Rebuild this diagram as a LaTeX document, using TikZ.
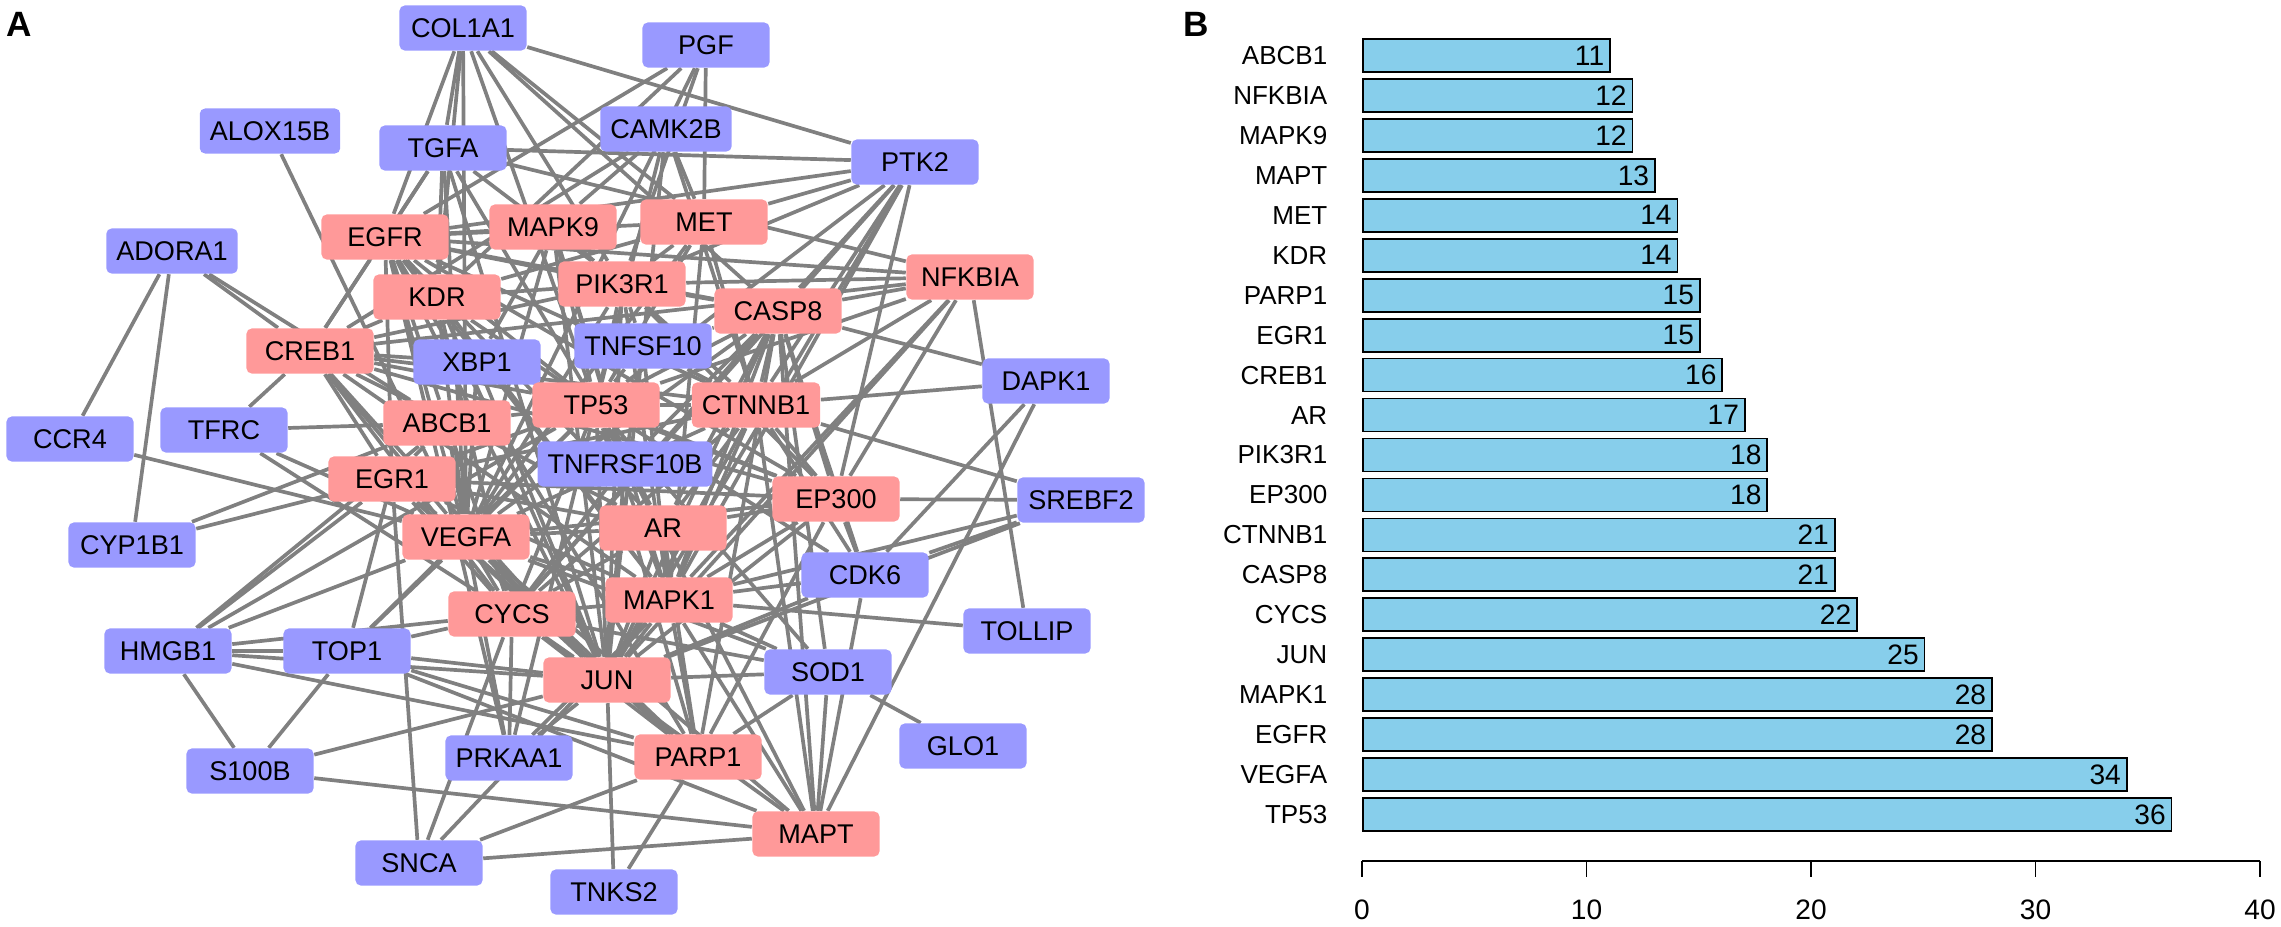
\documentclass[tikz,border=0pt]{standalone}
\usepackage{fontspec}
\setmainfont{Liberation Sans}
\usepackage{tikz}
\usetikzlibrary{positioning}

\definecolor{hubred}{HTML}{FF9999}
\definecolor{partblue}{HTML}{9999FF}
\definecolor{linkgray}{HTML}{808080}
\definecolor{barblue}{HTML}{87CEEB}

\pgfdeclarelayer{background}
\pgfsetlayers{background,main}

\newcommand{\barstep}{0.2245cm}

\tikzset{
        gene/.style={rectangle, rounded corners=1.5pt, minimum width=1.27cm,
                     minimum height=0.45cm, inner xsep=0.1cm, inner ysep=0pt,
                     font=\fontsize{7.7}{9}\selectfont},
        hub/.style={gene, fill=hubred},
        partner/.style={gene, fill=partblue},
        link/.style={draw=linkgray, line width=1.05pt},
        bar/.style={draw=black, fill=barblue, line width=0.5pt, anchor=west,
                    minimum height=0.33cm, inner sep=0pt},
        barname/.style={inner sep=0pt, font=\fontsize{7.4}{9}\selectfont},
        barval/.style={inner sep=0pt, font=\fontsize{8}{9}\selectfont},
        tick/.style={inner sep=0pt, font=\fontsize{8}{9}\selectfont},
        panel/.style={inner sep=0pt, font=\bfseries\fontsize{10}{11}\selectfont},
 }

\begin{document}
\begin{tikzpicture}[x=0.01cm, y=-0.01cm]
    \useasboundingbox (0,0) rectangle (2281,927);

    \node[panel] (pa) at (19,24) {A};
    \node[panel] (pb) at (1196,24) {B};

    % network, partner genes
    \node[partner] (col) at (463,28) {COL1A1};
    \node[partner] (pgf) at (706,45) {PGF};
    \node[partner] (alox) at (270,131) {ALOX15B};
    \node[partner] (tgfa) at (443,148) {TGFA};
    \node[partner] (camk) at (666,129) {CAMK2B};
    \node[partner] (ptk) at (915,162) {PTK2};
    \node[partner] (adora) at (172,251) {ADORA1};
    \node[partner] (xbp) at (477,362) {XBP1};
    \node[partner] (tnfsf) at (643,346) {TNFSF10};
    \node[partner] (dapk) at (1046,381) {DAPK1};
    \node[partner] (ccr) at (70,439) {CCR4};
    \node[partner] (tfrc) at (224,430) {TFRC};
    \node[partner] (tnfrsf) at (625,464) {TNFRSF10B};
    \node[partner] (srebf) at (1081,500) {SREBF2};
    \node[partner] (cyp) at (132,545) {CYP1B1};
    \node[partner] (cdk) at (865,575) {CDK6};
    \node[partner] (hmgb) at (168,651) {HMGB1};
    \node[partner] (top) at (347,651) {TOP1};
    \node[partner] (tollip) at (1027,631) {TOLLIP};
    \node[partner] (sod) at (828,672) {SOD1};
    \node[partner] (glo) at (963,746) {GLO1};
    \node[partner] (s100) at (250,771) {S100B};
    \node[partner] (prkaa) at (509,758) {PRKAA1};
    \node[partner] (snca) at (419,863) {SNCA};
    \node[partner] (tnks) at (614,892) {TNKS2};

    % network, hub genes
    \node[hub] (egfr) at (385,237) {EGFR};
    \node[hub] (mapk9) at (553,227) {MAPK9};
    \node[hub] (met) at (704,222) {MET};
    \node[hub] (kdr) at (437,297) {KDR};
    \node[hub] (pik) at (622,284) {PIK3R1};
    \node[hub] (nfkbia) at (970,277) {NFKBIA};
    \node[hub] (casp) at (778,311) {CASP8};
    \node[hub] (creb) at (310,351) {CREB1};
    \node[hub] (tp53) at (596,405) {TP53};
    \node[hub] (ctnnb) at (756,405) {CTNNB1};
    \node[hub] (abcb) at (447,423) {ABCB1};
    \node[hub] (egr) at (392,479) {EGR1};
    \node[hub] (ep300) at (836,499) {EP300};
    \node[hub] (vegfa) at (466,537) {VEGFA};
    \node[hub] (ar) at (663,528) {AR};
    \node[hub] (cycs) at (512,614) {CYCS};
    \node[hub] (mapk1) at (669,600) {MAPK1};
    \node[hub] (jun) at (607,680) {JUN};
    \node[hub] (parp) at (698,757) {PARP1};
    \node[hub] (mapt) at (816,834) {MAPT};

    \begin{pgfonlayer}{background}
    \foreach \t in {tgfa,egfr,kdr,tp53,pik,casp,ptk,vegfa,met} \draw[link] (col) -- (\t);
    \foreach \t in {egfr,kdr,vegfa,pik,met} \draw[link] (pgf) -- (\t);
    \foreach \t in {vegfa} \draw[link] (alox) -- (\t);
    \foreach \t in {egfr,kdr,creb,vegfa,tp53,pik,ptk,nfkbia,jun} \draw[link] (tgfa) -- (\t);
    \foreach \t in {creb,mapk9,tp53,ctnnb,jun,met} \draw[link] (camk) -- (\t);
    \foreach \t in {egfr,met,pik,casp,ctnnb,tp53,ep300,mapk1,jun,cycs} \draw[link] (ptk) -- (\t);
    \foreach \t in {ccr,cyp,creb,abcb} \draw[link] (adora) -- (\t);
    \foreach \t in {tp53,vegfa,mapk9,jun,ep300,creb} \draw[link] (xbp) -- (\t);
    \foreach \t in {tp53,casp,tnfrsf,pik,mapk1,ctnnb} \draw[link] (tnfsf) -- (\t);
    \foreach \t in {casp,ctnnb,cdk,mapt} \draw[link] (dapk) -- (\t);
    \foreach \t in {vegfa} \draw[link] (ccr) -- (\t);
    \foreach \t in {creb,abcb,vegfa,cycs} \draw[link] (tfrc) -- (\t);
    \foreach \t in {tp53,casp,ar,jun,cycs,mapk9} \draw[link] (tnfrsf) -- (\t);
    \foreach \t in {ep300,cdk,jun,ctnnb,mapk1} \draw[link] (srebf) -- (\t);
    \foreach \t in {egr,abcb} \draw[link] (cyp) -- (\t);
    \foreach \t in {tp53,ctnnb,ep300,jun,mapk1,mapt,casp} \draw[link] (cdk) -- (\t);
    \foreach \t in {egr,vegfa,abcb,top,cycs,jun,parp,s100,tp53} \draw[link] (hmgb) -- (\t);
    \foreach \t in {egr,vegfa,cycs,jun,mapt,parp,s100,tp53} \draw[link] (top) -- (\t);
    \foreach \t in {mapk1,nfkbia} \draw[link] (tollip) -- (\t);
    \foreach \t in {glo,mapt,parp,jun,tp53,casp,mapk1,cycs,vegfa} \draw[link] (sod) -- (\t);
    \foreach \t in {jun,mapt} \draw[link] (s100) -- (\t);
    \foreach \t in {cycs,vegfa,tp53,mapk1,jun,egfr} \draw[link] (prkaa) -- (\t);
    \foreach \t in {egr,cycs,mapk1,parp,mapt} \draw[link] (snca) -- (\t);
    \foreach \t in {parp,jun} \draw[link] (tnks) -- (\t);

    \foreach \t in {vegfa,egfr,mapk1,jun,cycs,casp,ctnnb,ep300,pik,ar,creb,egr,parp,kdr,met,mapt,mapk9,nfkbia,abcb} \draw[link] (tp53) -- (\t);
    \foreach \t in {egfr,mapk1,jun,cycs,casp,ctnnb,ep300,pik,ar,creb,egr,parp,kdr,met,mapt,mapk9,abcb} \draw[link] (vegfa) -- (\t);
    \foreach \t in {mapk1,jun,casp,ctnnb,ep300,pik,ar,creb,egr,kdr,met,mapk9,nfkbia,abcb,parp} \draw[link] (egfr) -- (\t);
    \foreach \t in {jun,cycs,casp,ctnnb,ep300,pik,ar,creb,egr,parp,kdr,met,mapt,mapk9,nfkbia} \draw[link] (mapk1) -- (\t);
    \foreach \t in {cycs,casp,ctnnb,ep300,ar,creb,egr,parp,mapk9,nfkbia,kdr,pik} \draw[link] (jun) -- (\t);
    \foreach \t in {casp,parp,mapt,ctnnb,ar,egr,creb,kdr,abcb} \draw[link] (cycs) -- (\t);
    \foreach \t in {ctnnb,parp,nfkbia,mapt,pik,ep300,ar} \draw[link] (casp) -- (\t);
    \foreach \t in {ep300,ar,pik,nfkbia,met,mapt,egr,creb} \draw[link] (ctnnb) -- (\t);
    \foreach \t in {ar,creb,nfkbia,parp,egr,pik} \draw[link] (ep300) -- (\t);
    \foreach \t in {kdr,met,creb,mapk9} \draw[link] (pik) -- (\t);
    \foreach \t in {parp,creb,egr} \draw[link] (ar) -- (\t);
    \foreach \t in {pik,creb} \draw[link] (nfkbia) -- (\t);
    \foreach \t in {creb,parp,abcb} \draw[link] (egr) -- (\t);
    \foreach \t in {met,creb} \draw[link] (kdr) -- (\t);
    \end{pgfonlayer}

    % degree bars
    \node[bar, minimum width=11*\barstep] (bar1) at (1362,55.5) {};
    \node[bar, minimum width=12*\barstep] (bar2) at (1362,95.45) {};
    \node[bar, minimum width=12*\barstep] (bar3) at (1362,135.4) {};
    \node[bar, minimum width=13*\barstep] (bar4) at (1362,175.35) {};
    \node[bar, minimum width=14*\barstep] (bar5) at (1362,215.3) {};
    \node[bar, minimum width=14*\barstep] (bar6) at (1362,255.25) {};
    \node[bar, minimum width=15*\barstep] (bar7) at (1362,295.2) {};
    \node[bar, minimum width=15*\barstep] (bar8) at (1362,335.15) {};
    \node[bar, minimum width=16*\barstep] (bar9) at (1362,375.1) {};
    \node[bar, minimum width=17*\barstep] (bar10) at (1362,415.05) {};
    \node[bar, minimum width=18*\barstep] (bar11) at (1362,455) {};
    \node[bar, minimum width=18*\barstep] (bar12) at (1362,494.95) {};
    \node[bar, minimum width=21*\barstep] (bar13) at (1362,534.9) {};
    \node[bar, minimum width=21*\barstep] (bar14) at (1362,574.85) {};
    \node[bar, minimum width=22*\barstep] (bar15) at (1362,614.8) {};
    \node[bar, minimum width=25*\barstep] (bar16) at (1362,654.75) {};
    \node[bar, minimum width=28*\barstep] (bar17) at (1362,694.7) {};
    \node[bar, minimum width=28*\barstep] (bar18) at (1362,734.65) {};
    \node[bar, minimum width=34*\barstep] (bar19) at (1362,774.6) {};
    \node[bar, minimum width=36*\barstep] (bar20) at (1362,814.55) {};

    \node[barname, left=0.34cm of bar1.west] {ABCB1};
    \node[barname, left=0.34cm of bar2.west] {NFKBIA};
    \node[barname, left=0.34cm of bar3.west] {MAPK9};
    \node[barname, left=0.34cm of bar4.west] {MAPT};
    \node[barname, left=0.34cm of bar5.west] {MET};
    \node[barname, left=0.34cm of bar6.west] {KDR};
    \node[barname, left=0.34cm of bar7.west] {PARP1};
    \node[barname, left=0.34cm of bar8.west] {EGR1};
    \node[barname, left=0.34cm of bar9.west] {CREB1};
    \node[barname, left=0.34cm of bar10.west] {AR};
    \node[barname, left=0.34cm of bar11.west] {PIK3R1};
    \node[barname, left=0.34cm of bar12.west] {EP300};
    \node[barname, left=0.34cm of bar13.west] {CTNNB1};
    \node[barname, left=0.34cm of bar14.west] {CASP8};
    \node[barname, left=0.34cm of bar15.west] {CYCS};
    \node[barname, left=0.34cm of bar16.west] {JUN};
    \node[barname, left=0.34cm of bar17.west] {MAPK1};
    \node[barname, left=0.34cm of bar18.west] {EGFR};
    \node[barname, left=0.34cm of bar19.west] {VEGFA};
    \node[barname, left=0.34cm of bar20.west] {TP53};

    \node[barval, left=0.06cm of bar1.east] {11};
    \node[barval, left=0.06cm of bar2.east] {12};
    \node[barval, left=0.06cm of bar3.east] {12};
    \node[barval, left=0.06cm of bar4.east] {13};
    \node[barval, left=0.06cm of bar5.east] {14};
    \node[barval, left=0.06cm of bar6.east] {14};
    \node[barval, left=0.06cm of bar7.east] {15};
    \node[barval, left=0.06cm of bar8.east] {15};
    \node[barval, left=0.06cm of bar9.east] {16};
    \node[barval, left=0.06cm of bar10.east] {17};
    \node[barval, left=0.06cm of bar11.east] {18};
    \node[barval, left=0.06cm of bar12.east] {18};
    \node[barval, left=0.06cm of bar13.east] {21};
    \node[barval, left=0.06cm of bar14.east] {21};
    \node[barval, left=0.06cm of bar15.east] {22};
    \node[barval, left=0.06cm of bar16.east] {25};
    \node[barval, left=0.06cm of bar17.east] {28};
    \node[barval, left=0.06cm of bar18.east] {28};
    \node[barval, left=0.06cm of bar19.east] {34};
    \node[barval, left=0.06cm of bar20.east] {36};

    % axis
    \draw[line width=0.5pt] (1362,861) -- (2260,861);
    \foreach \v in {0,10,20,30,40}
        \draw[line width=0.5pt] ({1362+22.45*\v},861) -- ++(0,16)
            node[tick, below=0.22cm] {\v};
\end{tikzpicture}
\end{document}
